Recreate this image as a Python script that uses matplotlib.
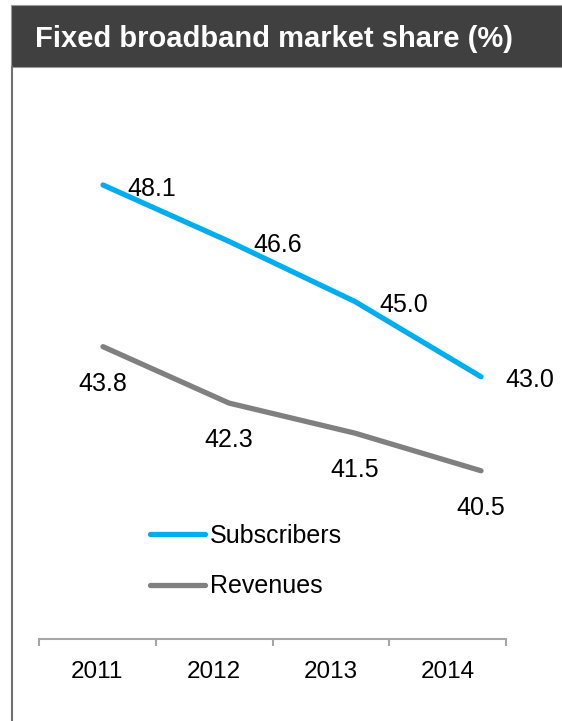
import matplotlib
matplotlib.use("Agg")
import matplotlib.pyplot as plt
from matplotlib.patches import Rectangle
from matplotlib.lines import Line2D

plt.rcParams['font.family'] = ['Liberation Sans', 'DejaVu Sans']

title = "Fixed broadband market share (%)"
years = ["2011", "2012", "2013", "2014"]
subscribers = [48.1, 46.6, 45.0, 43.0]
revenues = [43.8, 42.3, 41.5, 40.5]

BLUE = "#00AEEF"
GREY = "#808080"
W, H = 562, 721
DPI = 100

fig = plt.figure(figsize=(W / DPI, H / DPI), dpi=DPI)
fig.patch.set_facecolor("white")


def fx(px):
    return px / W


def fy(py):
    return 1 - py / H


# header band with title
fig.patches.append(Rectangle((fx(11), fy(67)), fx(W - 11), (67 - 5) / H,
                             transform=fig.transFigure, facecolor="#404040",
                             edgecolor="#9a9a9a", linewidth=0.8, zorder=0))
fig.text(fx(35), fy(47), title, color="white", fontsize=21, fontweight="bold",
         ha="left", va="baseline")

# left frame line
fig.lines.append(Line2D([fx(12), fx(12)], [fy(67), 0], transform=fig.transFigure,
                        color="#707070", linewidth=1.5))

# line series axes
ax = fig.add_axes([0, 0, 1, 1])
ax.set_facecolor("none")
x = list(range(len(years)))
ax.plot(x, subscribers, color=BLUE, linewidth=3.8, solid_capstyle="round",
        solid_joinstyle="round", label="Subscribers")
ax.plot(x, revenues, color=GREY, linewidth=3.8, solid_capstyle="round",
        solid_joinstyle="round", label="Revenues")
ax.set_xlim(-103 / 126, (W - 103) / 126)
ax.set_ylim(48.1 - (H - 185) / 37.6, 48.1 + 185 / 37.6)
ax.axis("off")

for xi, v in zip(x, subscribers):
    ax.annotate(f"{v:.1f}", (xi, v), xytext=(35, -7.6), textcoords="offset points",
                ha="center", va="baseline", fontsize=18, color="black")
for xi, v in zip(x, revenues):
    ax.annotate(f"{v:.1f}", (xi, v), xytext=(0, -31.7), textcoords="offset points",
                ha="center", va="baseline", fontsize=18, color="black")

leg = ax.legend(loc="upper left", bbox_to_anchor=(fx(150), fy(524)),
                bbox_transform=fig.transFigure, frameon=False, fontsize=18,
                handlelength=2.2, handletextpad=0.2, labelspacing=1.05,
                borderpad=0, borderaxespad=0)
for h in leg.get_lines():
    h.set_linewidth(3.8)
    h.set_solid_capstyle("round")

# category axis
axc = fig.add_axes([fx(39), fy(639), fx(506 - 39), 0.001])
axc.set_facecolor("none")
axc.set_xlim(0, len(years))
axc.set_ylim(0, 1)
for s in ["top", "left", "right"]:
    axc.spines[s].set_visible(False)
axc.spines["bottom"].set_color("#a6a6a6")
axc.spines["bottom"].set_linewidth(1.5)
axc.set_yticks([])
axc.set_xticks(range(len(years) + 1))
axc.set_xticklabels([])
axc.tick_params(axis="x", which="major", direction="out", length=5,
                width=1.5, color="#a6a6a6")
axc.set_xticks([i + 0.5 for i in range(len(years))], minor=True)
axc.set_xticklabels(years, minor=True, fontsize=17.5)
axc.tick_params(axis="x", which="minor", length=0, pad=16)

fig.savefig("out.png", dpi=DPI, facecolor="white")
